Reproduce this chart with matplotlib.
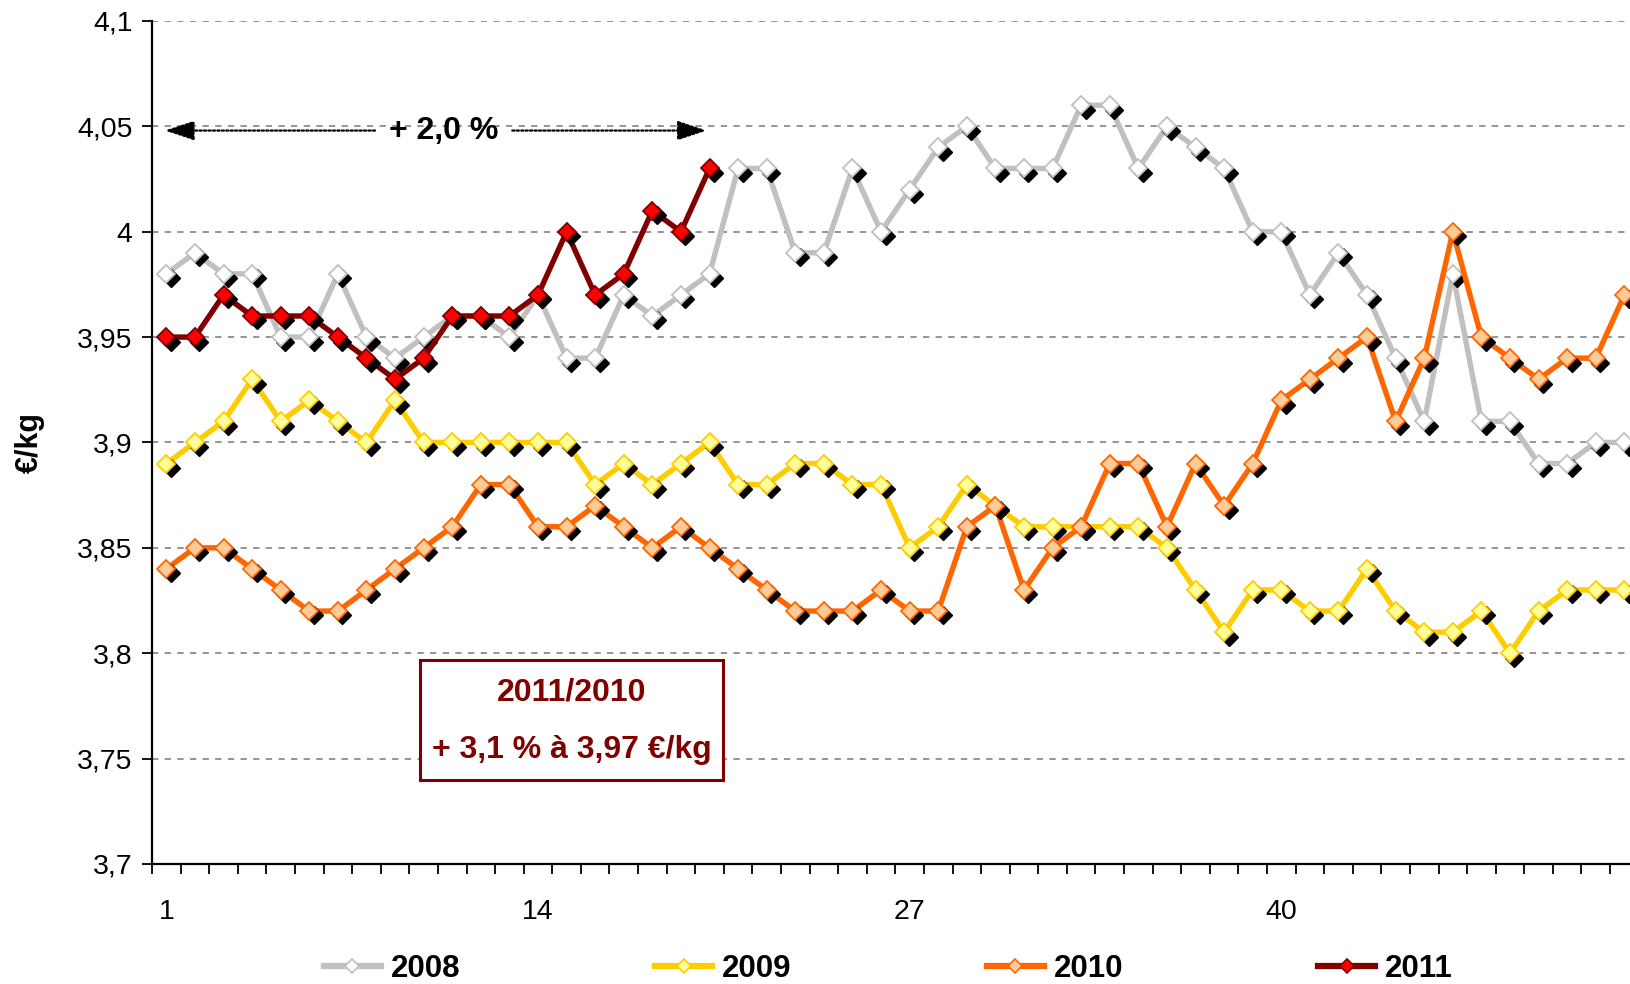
import numpy as np
import matplotlib
matplotlib.use("Agg")
import matplotlib.pyplot as plt
from matplotlib.lines import Line2D
from matplotlib.patches import Rectangle
from matplotlib.ticker import FixedLocator, FuncFormatter
from matplotlib.transforms import offset_copy

plt.rcParams["font.family"] = ["Liberation Sans", "DejaVu Sans"]

# -----------------------------------------------------
# Data (prix hebdomadaire, EUR/kg)
# -----------------------------------------------------

WEEKS = np.arange(1, 53)

PRICE_2008 = [3.98, 3.99, 3.98, 3.98, 3.95, 3.95, 3.98, 3.95, 3.94, 3.95,
              3.96, 3.96, 3.95, 3.97, 3.94, 3.94, 3.97, 3.96, 3.97, 3.98,
              4.03, 4.03, 3.99, 3.99, 4.03, 4.00, 4.02, 4.04, 4.05, 4.03,
              4.03, 4.03, 4.06, 4.06, 4.03, 4.05, 4.04, 4.03, 4.00, 4.00,
              3.97, 3.99, 3.97, 3.94, 3.91, 3.98, 3.91, 3.91, 3.89, 3.89,
              3.90, 3.90]

PRICE_2009 = [3.89, 3.90, 3.91, 3.93, 3.91, 3.92, 3.91, 3.90, 3.92, 3.90,
              3.90, 3.90, 3.90, 3.90, 3.90, 3.88, 3.89, 3.88, 3.89, 3.90,
              3.88, 3.88, 3.89, 3.89, 3.88, 3.88, 3.85, 3.86, 3.88, 3.87,
              3.86, 3.86, 3.86, 3.86, 3.86, 3.85, 3.83, 3.81, 3.83, 3.83,
              3.82, 3.82, 3.84, 3.82, 3.81, 3.81, 3.82, 3.80, 3.82, 3.83,
              3.83, 3.83]

PRICE_2010 = [3.84, 3.85, 3.85, 3.84, 3.83, 3.82, 3.82, 3.83, 3.84, 3.85,
              3.86, 3.88, 3.88, 3.86, 3.86, 3.87, 3.86, 3.85, 3.86, 3.85,
              3.84, 3.83, 3.82, 3.82, 3.82, 3.83, 3.82, 3.82, 3.86, 3.87,
              3.83, 3.85, 3.86, 3.89, 3.89, 3.86, 3.89, 3.87, 3.89, 3.92,
              3.93, 3.94, 3.95, 3.91, 3.94, 4.00, 3.95, 3.94, 3.93, 3.94,
              3.94, 3.97]

PRICE_2011 = [3.95, 3.95, 3.97, 3.96, 3.96, 3.96, 3.95, 3.94, 3.93, 3.94,
              3.96, 3.96, 3.96, 3.97, 4.00, 3.97, 3.98, 4.01, 4.00, 4.03]

X_LABEL_WEEKS = [1, 14, 27, 40]

# -----------------------------------------------------
# Style
# -----------------------------------------------------

SERIES = [
    {"label": "2008", "values": PRICE_2008, "line": "#C0C0C0", "face": "#FFFFFF", "edge": "#C0C0C0"},
    {"label": "2009", "values": PRICE_2009, "line": "#FFCC00", "face": "#FFFF99", "edge": "#FFCC00"},
    {"label": "2010", "values": PRICE_2010, "line": "#FF6600", "face": "#FFCC99", "edge": "#FF6600"},
    {"label": "2011", "values": PRICE_2011, "line": "#800000", "face": "#FF0000", "edge": "#800000"},
]

DARK_RED = "#800000"
LINEWIDTH = 3.9
MARKER_SIZE = 9.5
TICK_SIZE = 20.5
BOLD_SIZE = 23


def fmt_comma(v, pos):
    return f"{v:g}".replace(".", ",")


fig = plt.figure(figsize=(16.3, 9.84), dpi=100)
ax = fig.add_axes([0.0933, 0.122, 0.912, 0.8567])

shadow_tr = offset_copy(ax.transData, fig=fig, x=3.2, y=-3.2, units="points")

handles = []
for i, s in enumerate(SERIES):
    x = WEEKS[:len(s["values"])]
    z = 2 + i
    ax.plot(x, s["values"], color=s["line"], lw=LINEWIDTH, zorder=z)
    # ombre des marqueurs
    ax.plot(x, s["values"], linestyle="None", marker="D", ms=MARKER_SIZE,
            color="black", transform=shadow_tr, zorder=z + 0.1)
    ax.plot(x, s["values"], linestyle="None", marker="D", ms=MARKER_SIZE,
            markerfacecolor=s["face"], markeredgecolor=s["edge"],
            markeredgewidth=1.3, zorder=z + 0.2)
    handles.append(Line2D([], [], color=s["line"], lw=LINEWIDTH + 0.6,
                          marker="D", ms=MARKER_SIZE - 2,
                          markerfacecolor=s["face"], markeredgecolor=s["edge"],
                          markeredgewidth=1.2, label=s["label"]))

ax.set_xlim(0.5, 52.5)
ax.set_ylim(3.7, 4.1)

ax.yaxis.set_major_locator(FixedLocator(np.arange(3.7, 4.1001, 0.05)))
ax.yaxis.set_major_formatter(FuncFormatter(fmt_comma))
ax.tick_params(axis="y", direction="out", length=7, width=1.3,
               labelsize=TICK_SIZE, pad=7)

ax.xaxis.set_major_locator(FixedLocator(X_LABEL_WEEKS))
ax.xaxis.set_minor_locator(FixedLocator(np.arange(0.5, 53, 1)))
ax.tick_params(axis="x", which="major", length=0, labelsize=TICK_SIZE, pad=25)
ax.tick_params(axis="x", which="minor", direction="out", length=7, width=1.3)

for side in ["top", "right"]:
    ax.spines[side].set_visible(False)
for side in ["left", "bottom"]:
    ax.spines[side].set_linewidth(1.6)

ax.set_axisbelow(True)
ax.yaxis.grid(True, color="#8c8c8c", linestyle=(0, (3.5, 3.5)), linewidth=1.3)

ax.set_ylabel("€/kg", fontsize=BOLD_SIZE - 1, fontweight="bold")
ax.yaxis.set_label_coords(-0.072, 0.5)

# Fleche +2,0 %
arrow_y = 4.048
arrow_props = dict(arrowstyle="-|>,head_length=0.9,head_width=0.3",
                   linestyle=(0, (1, 1)), lw=1.6, color="black",
                   mutation_scale=20, shrinkA=0, shrinkB=0)
ax.annotate("", xy=(0.95, arrow_y), xytext=(8.3, arrow_y),
            arrowprops=arrow_props, zorder=7)
ax.annotate("", xy=(19.9, arrow_y), xytext=(13.1, arrow_y),
            arrowprops=arrow_props, zorder=7)
ax.text(10.7, arrow_y, "+ 2,0 %", fontsize=BOLD_SIZE, fontweight="bold",
        ha="center", va="center", zorder=7)

# Encadre 2011/2010
ax.add_patch(Rectangle((9.87, 3.7398), 10.6, 0.0569, facecolor="white",
                       edgecolor=DARK_RED, lw=2.2, zorder=8))
ax.text(15.17, 3.7815, "2011/2010", color=DARK_RED, fontsize=BOLD_SIZE,
        fontweight="bold", ha="center", va="center", zorder=9)
ax.text(15.17, 3.754, "+ 3,1 % à 3,97 €/kg", color=DARK_RED, fontsize=BOLD_SIZE,
        fontweight="bold", ha="center", va="center", zorder=9)

fig.legend(handles=handles, loc="center", bbox_to_anchor=(0.545, 0.0155),
           ncol=4, frameon=False, handlelength=1.82, handletextpad=0.32,
           columnspacing=6.24, prop={"size": 22.5, "weight": "bold"})

fig.savefig("out.png", dpi=100)
